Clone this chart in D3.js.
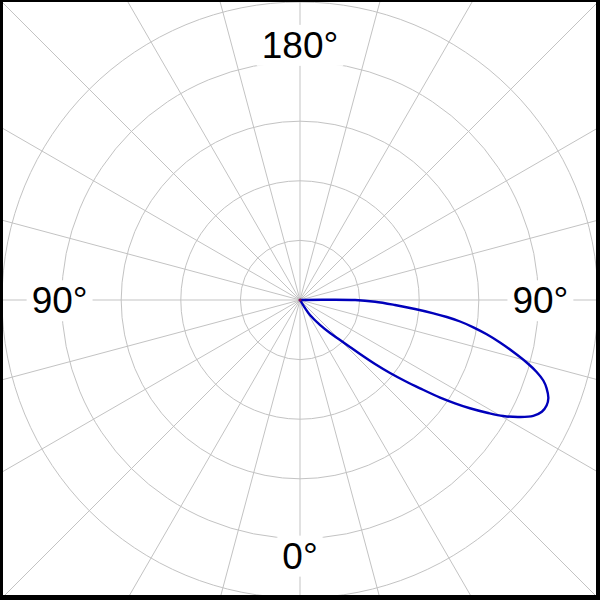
<!DOCTYPE html>
<html>
<head>
<meta charset="utf-8">
<script src="https://cdn.jsdelivr.net/npm/d3@7"></script>
<style>
  html, body { margin: 0; padding: 0; background: #fff; }
  svg { display: block; }
</style>
</head>
<body>
<svg id="chart" width="600" height="600"></svg>
<script>
// ---- data ----
// pattern angle in degrees (0 = bottom, 90 = right, 180 = top)
const patternAngle = [30, 32.0, 33.7, 38.66, 42.27, 45.0, 46.77, 48.0, 49.52, 50.96, 52.35, 53.65, 55.14,
  56.32, 57.50, 58.93, 60.26, 62.0, 63.6, 65.2, 66.84, 68.46, 70.3, 71.69, 73.08, 74.59, 76.30, 78.0,
  79.59, 81.05, 82.35, 83.39, 84.30, 85.53, 86.99, 88.70, 90, 90];
// normalized magnitude (outer ring = 1)
const patternValue = [0, 0.032, 0.0605, 0.107, 0.150, 0.190, 0.230, 0.271, 0.331, 0.389, 0.445, 0.500,
  0.573, 0.625, 0.676, 0.733, 0.785, 0.836, 0.874, 0.894, 0.900, 0.896, 0.879, 0.860, 0.830, 0.789,
  0.737, 0.686, 0.637, 0.589, 0.542, 0.496, 0.450, 0.387, 0.319, 0.252, 0.185, 0];
const ringValues = [0.2, 0.4, 0.6, 0.8, 1.0];
const spokeAngles = d3.range(0, 360, 15);
const labelAngles = [0, 90, 180, 270];
const labelTexts = ["0°", "90°", "180°", "90°"];

// ---- layout ----
const W = 600, H = 600;
const cx = 300, cy = 300;
const svg = d3.select("#chart");
const r = d3.scaleLinear().domain([0, 1]).range([0, 298]);
// degrees -> d3 radial angle (0 at 12 o'clock, clockwise); our 0 is at bottom
const a = d3.scaleLinear().domain([0, 180]).range([Math.PI, 0]);

svg.append("rect").attr("width", W).attr("height", H).attr("fill", "#fff");
const g = svg.append("g").attr("transform", `translate(${cx},${cy})`);

const gridColor = "#c3c3c3";
// spokes
g.selectAll("line.spoke").data(spokeAngles).join("line")
  .attr("class", "spoke")
  .attr("x1", 0).attr("y1", 0)
  .attr("x2", d => 500 * Math.sin(a(d)))
  .attr("y2", d => -500 * Math.cos(a(d)))
  .attr("stroke", gridColor).attr("stroke-width", 1);
// rings
g.selectAll("circle.ring").data(ringValues).join("circle")
  .attr("class", "ring")
  .attr("r", d => r(d))
  .attr("fill", "none").attr("stroke", gridColor).attr("stroke-width", 1);

// labels with white background
const fontSize = 37;
const lab = g.selectAll("g.lab").data(labelAngles).join("g").attr("class", "lab");
lab.each(function(d, i) {
  const vertical = (d % 180 === 0);
  const rr = r(0.8) + (vertical ? 17 : 2);
  const x = rr * Math.sin(a(d));
  const y = -rr * Math.cos(a(d));
  const sel = d3.select(this);
  const rect = sel.append("rect").attr("fill", "#fff");
  const t = sel.append("text")
    .attr("x", x).attr("y", y + fontSize * 0.716 / 2)
    .attr("text-anchor", "middle")
    .attr("font-family", "Liberation Sans, Arial, sans-serif")
    .attr("font-size", fontSize)
    .attr("fill", "#000")
    .text(labelTexts[i]);
  const bb = t.node().getBBox();
  rect.attr("x", bb.x - 5).attr("y", bb.y).attr("width", bb.width + 10).attr("height", bb.height);
});

// pattern
const pts = patternAngle.map((d, i) => [a(d), r(patternValue[i])]);
const line = d3.lineRadial().curve(d3.curveCatmullRom.alpha(0.5));
g.append("path")
  .attr("d", line(pts))
  .attr("fill", "none")
  .attr("stroke", "#0000bb")
  .attr("stroke-width", 2.4)
  .attr("stroke-linejoin", "round");

g.append("circle").attr("r", 1.6).attr("fill", "#7a1050");

// frame
svg.append("path")
  .attr("d", `M0,0H${W}V${H}H0Z M3,2V595H596V2Z`)
  .attr("fill", "#000").attr("fill-rule", "evenodd");
</script>
</body>
</html>
